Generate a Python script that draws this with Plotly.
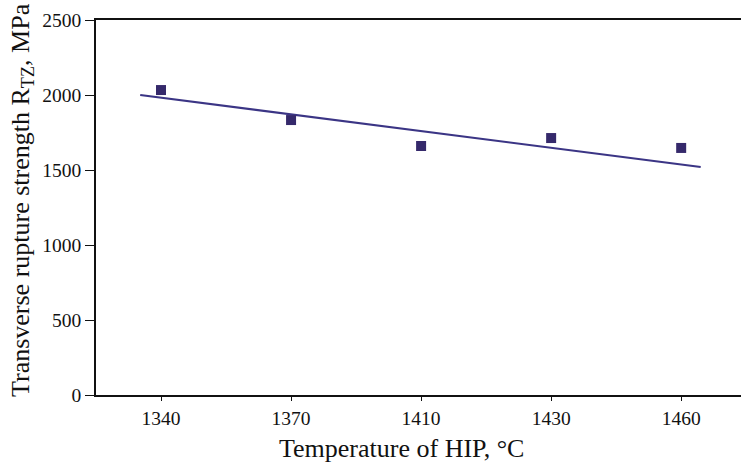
import plotly.graph_objects as go

temps = ["1340", "1370", "1410", "1430", "1460"]
strength = [2033, 1833, 1660, 1713, 1647]
trend_pos = [-0.16, 4.15]
trend_val = [2000, 1520]
y_ticks = [0, 500, 1000, 1500, 2000, 2500]

pos = list(range(len(temps)))

fig = go.Figure()
fig.add_trace(go.Scatter(x=trend_pos, y=trend_val, mode="lines",
                         line=dict(color="#3b3585", width=2.2), showlegend=False))
fig.add_trace(go.Scatter(x=pos, y=strength, mode="markers",
                         marker=dict(symbol="square", size=10, color="#35296b"),
                         showlegend=False))

font_family = "Liberation Serif"
ink = "#111111"
fig.update_layout(
    width=741, height=462,
    margin=dict(l=96, r=0, t=20, b=67),
    paper_bgcolor="white", plot_bgcolor="white",
    font=dict(family=font_family, color=ink),
    xaxis=dict(
        range=[-0.5, 4.46], tickmode="array", tickvals=pos, ticktext=temps,
        showgrid=False, zeroline=False, showline=True, linecolor=ink,
        linewidth=1.5, mirror=True, ticks="outside", ticklen=4, tickcolor=ink,
        ticklabelstandoff=1,
        tickfont=dict(size=19.5, family=font_family),
    ),
    yaxis=dict(
        range=[0, 2500], tickmode="array", tickvals=y_ticks,
        showgrid=False, zeroline=False, showline=True, linecolor=ink,
        linewidth=1.5, ticks="outside", ticklen=9, tickcolor=ink,
        tickfont=dict(size=19.5, family=font_family),
    ),
    annotations=[
        dict(text="Temperature of HIP, °C", xref="paper", yref="paper",
             x=(401 - 96) / 645, y=(395 - 449) / 375, xanchor="center", yanchor="middle",
             showarrow=False, font=dict(size=26, family=font_family, color=ink)),
        dict(text="Transverse rupture strength R<sub>TZ</sub>, MPa", xref="paper", yref="paper",
             x=(22 - 96) / 645, y=(395 - 200) / 375, xanchor="center", yanchor="middle",
             textangle=-90, showarrow=False, font=dict(size=26, family=font_family, color=ink)),
    ],
)
fig.write_html("out.html")
